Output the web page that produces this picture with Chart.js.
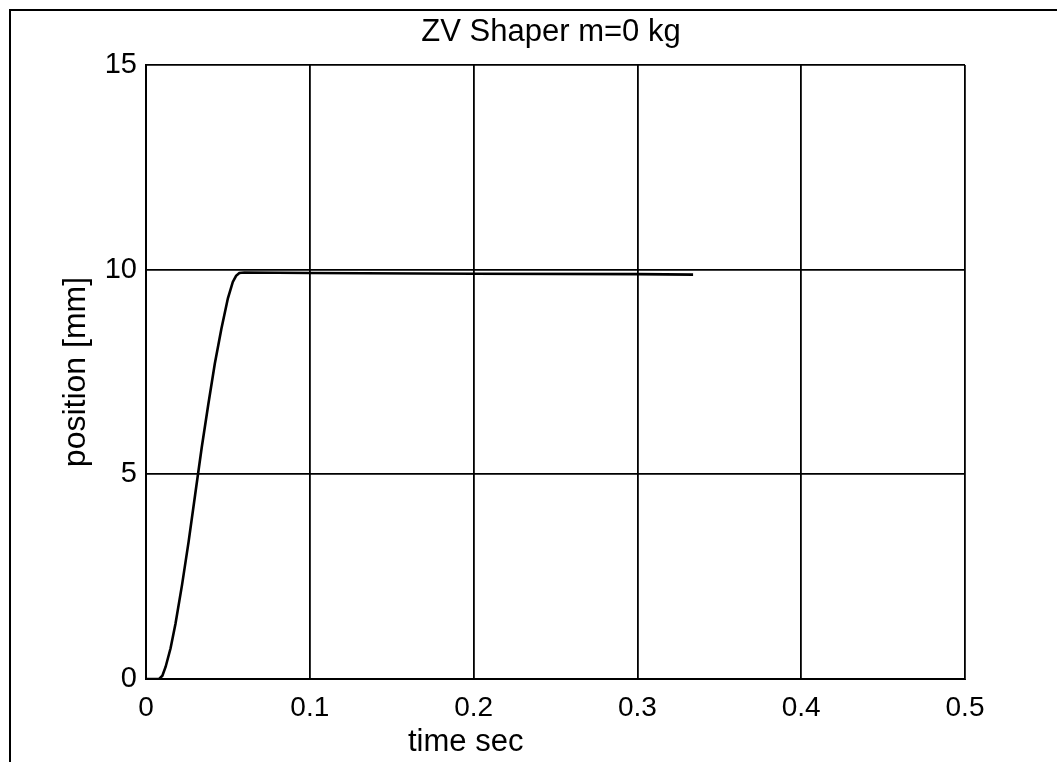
<!DOCTYPE html>
<html>
<head>
<meta charset="utf-8">
<title>ZV Shaper m=0 kg</title>
<script src="https://cdn.jsdelivr.net/npm/chart.js@4/dist/chart.umd.min.js"></script>
<style>
  html, body { margin: 0; padding: 0; background: #fff; }
  #wrap { position: relative; width: 1057px; height: 762px; }
</style>
</head>
<body>
<div id="wrap"><canvas id="plot" width="1057" height="762"></canvas></div>
<script>
  // values
  const timeSec = [0, 0.008, 0.010, 0.012, 0.015, 0.018, 0.022, 0.026, 0.030, 0.034,
    0.038, 0.042, 0.046, 0.050, 0.053, 0.055, 0.057, 0.060, 0.100, 0.200, 0.300, 0.334];
  const positionMm = [0, 0, 0.08, 0.3, 0.75, 1.35, 2.3, 3.35, 4.5, 5.65,
    6.7, 7.7, 8.55, 9.3, 9.7, 9.85, 9.92, 9.93, 9.92, 9.9, 9.89, 9.88];
  const xTicks = [0, 0.1, 0.2, 0.3, 0.4, 0.5];
  const yTicks = [0, 5, 10, 15];

  const FONT = "'Liberation Sans', Arial, Helvetica, sans-serif";

  // scanned page frame, title and x label (the scan has them off the chart-area centre)
  const pagePlugin = {
    id: "page",
    beforeDraw(chart) {
      const ctx = chart.ctx;
      ctx.save();
      ctx.fillStyle = "#fff";
      ctx.fillRect(0, 0, chart.width, chart.height);
      ctx.strokeStyle = "#000";
      ctx.lineWidth = 2;
      ctx.beginPath();
      ctx.moveTo(10, chart.height);
      ctx.lineTo(10, 10);
      ctx.lineTo(chart.width, 10);
      ctx.stroke();
      ctx.restore();
    },
    afterDraw(chart) {
      const ctx = chart.ctx;
      ctx.save();
      ctx.fillStyle = "#000";
      ctx.font = "31px " + FONT;
      ctx.textBaseline = "alphabetic";
      ctx.textAlign = "center";
      ctx.fillText("ZV Shaper m=0 kg", 551, 41);
      ctx.textAlign = "left";
      ctx.fillText("time sec", 408, 751);
      ctx.restore();
    }
  };

  const ctx = document.getElementById("plot").getContext("2d");
  new Chart(ctx, {
    type: "scatter",
    data: {
      datasets: [{
        label: "position",
        data: timeSec.map((t, i) => ({ x: t, y: positionMm[i] })),
        showLine: true,
        borderColor: "#000",
        borderWidth: 2.6,
        pointRadius: 0,
        tension: 0
      }]
    },
    options: {
      responsive: false,
      animation: false,
      layout: { padding: { left: 0, right: 92, top: 65, bottom: 0 } },
      plugins: {
        legend: { display: false },
        tooltip: { enabled: false },
        title: { display: false }
      },
      scales: {
        x: {
          type: "linear",
          min: 0,
          max: 0.5,
          afterFit: (s) => { s.height = 83; },
          afterBuildTicks: (s) => { s.ticks = xTicks.map(v => ({ value: v })); },
          border: { color: "#000", width: 2 },
          grid: { color: "#000", lineWidth: 1.8, tickLength: 0 },
          ticks: {
            color: "#000",
            padding: 12,
            font: { family: FONT, size: 28 },
            callback: (v) => String(v)
          }
        },
        y: {
          type: "linear",
          min: 0,
          max: 15,
          afterFit: (s) => { s.width = 146; },
          afterBuildTicks: (s) => { s.ticks = yTicks.map(v => ({ value: v })); },
          border: { color: "#000", width: 2 },
          grid: { color: "#000", lineWidth: 1.8, tickLength: 0 },
          title: {
            display: true,
            text: "position [mm]",
            color: "#000",
            font: { family: FONT, size: 32, lineHeight: 1.2 },
            padding: { top: 57, bottom: 0 }
          },
          ticks: {
            color: "#000",
            padding: 9,
            font: { family: FONT, size: 29 }
          }
        }
      }
    },
    plugins: [pagePlugin]
  });
</script>
</body>
</html>
